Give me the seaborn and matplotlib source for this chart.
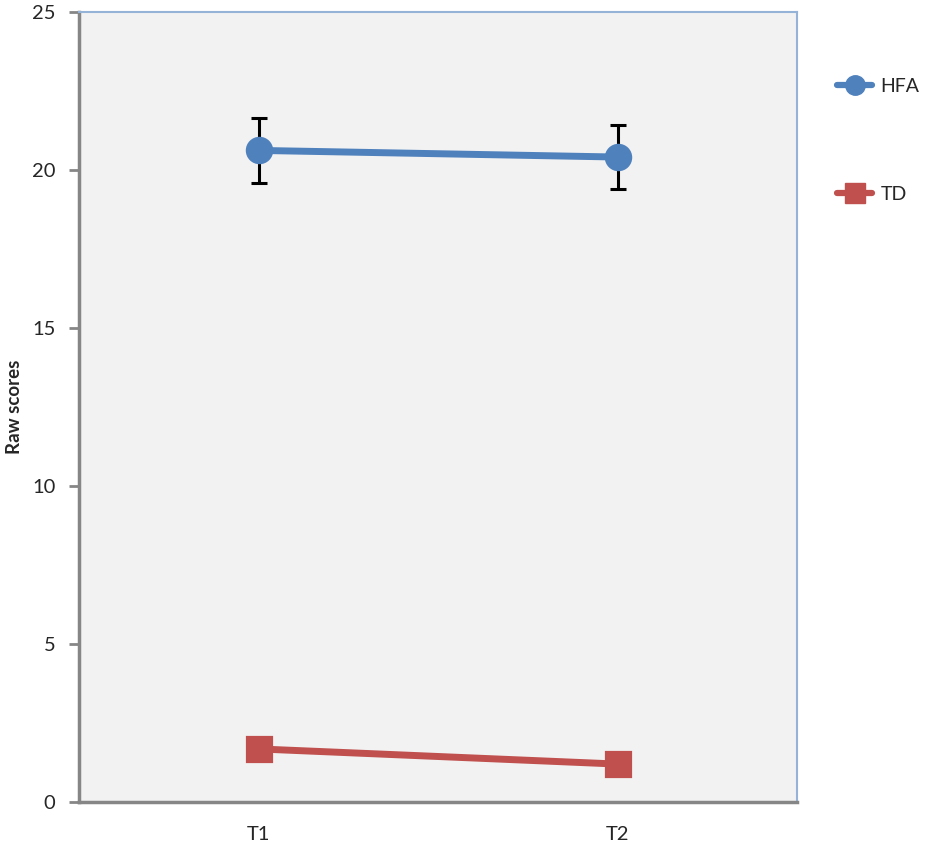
import pandas as pd
import matplotlib.pyplot as plt
import seaborn as sns

# Data
times = ['T1', 'T2']
hfa_scores = [20.62, 20.41]
hfa_err = [1.03, 1.02]
td_scores = [1.68, 1.20]

df = pd.DataFrame({
    'Time': times * 2,
    'Score': hfa_scores + td_scores,
    'Group': ['HFA'] * 2 + ['TD'] * 2,
})

sns.set_theme(style="white")
plt.rcParams['font.family'] = ['Lato', 'DejaVu Sans']

fig = plt.figure(figsize=(9.45, 8.52), dpi=100)
ax = fig.add_axes([79 / 945, 50 / 852, 718 / 945, 790 / 852])
ax.set_facecolor('#F2F2F2')

palette = {'HFA': '#4F81BD', 'TD': '#C0504D'}

# error bars first so markers sit on top
ax.errorbar([0, 1], hfa_scores, yerr=hfa_err, fmt='none', ecolor='black',
            elinewidth=2.2, capsize=6, capthick=2.2, zorder=2)

sns.pointplot(
    data=df, x='Time', y='Score', hue='Group', order=times,
    palette=palette, markers=['o', 's'], errorbar=None,
    markersize=16, linewidth=5, ax=ax, legend=False, zorder=3
)

ax.set_xlim(-0.5, 1.5)
ax.set_ylim(0, 25)
ax.set_yticks([0, 5, 10, 15, 20, 25])
ax.set_xlabel('')
ax.set_ylabel('Raw scores', fontsize=13.5, fontweight='bold')
ax.yaxis.set_label_coords(-(79 - 23) / 718, 0.5)
ax.tick_params(axis='y', which='both', left=True, length=7, width=2,
               color='#868686', labelsize=14.5, pad=10)
ax.tick_params(axis='x', bottom=False, labelsize=14.5, pad=11)

for side in ['left', 'bottom']:
    ax.spines[side].set_color('#868686')
    ax.spines[side].set_linewidth(2.5)
for side in ['top', 'right']:
    ax.spines[side].set_color('#95B3D7')
    ax.spines[side].set_linewidth(1.5)

# Legend on the right, outside the plot area
handles = [
    plt.Line2D([], [], color=palette['HFA'], marker='o', markersize=14, linewidth=4.5),
    plt.Line2D([], [], color=palette['TD'], marker='s', markersize=14, linewidth=4.5),
]
fig.legend(handles, ['HFA', 'TD'], loc='upper left',
           bbox_to_anchor=(820 / 945, 1 - 60 / 852), frameon=False,
           fontsize=14, labelspacing=4.7, handlelength=1.8, handletextpad=0.4)

fig.savefig('out.png', dpi=100)
